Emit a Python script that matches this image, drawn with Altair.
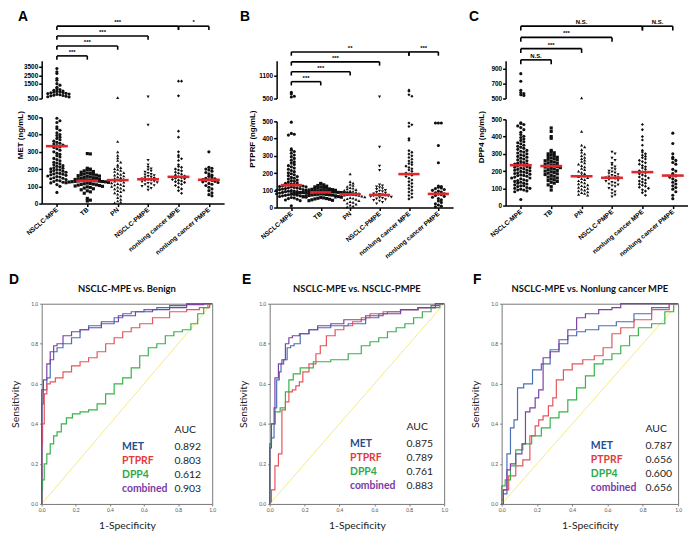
import json
import altair as alt
import pandas as pd

GROUPS = ["NSCLC-MPE", "TB", "PN", "NSCLC-PMPE", "nonlung cancer MPE", "nonlung cancer PMPE"]

# ---------------- MET (ng/mL) ----------------
MET_NSCLC_MPE = [3300, 2900, 2700, 2100, 1900, 1500, 1400, 1250, 1150, 1100, 1050, 1000, 980, 950,
                 920, 900, 880, 850, 830, 800, 780, 750, 720, 700, 680, 650, 620, 600,
                 495, 480, 470, 445, 435, 425, 410, 400, 395, 385, 378, 370, 362, 355, 350, 345,
                 340, 336, 330, 325, 318, 310, 300, 292, 285, 278, 270, 262, 255, 248, 240, 235,
                 230, 225, 220, 216, 212, 208, 205, 202, 198, 195, 192, 188, 185, 182, 178, 175,
                 172, 170, 167, 164, 160, 157, 154, 150, 147, 144, 140, 136, 132, 128, 124, 120,
                 110, 100, 65]
MET_TB = [290, 288, 205, 200, 198, 195, 190, 186, 182, 178, 175, 172, 170, 168, 165, 162, 160, 158,
          155, 152, 150, 148, 146, 144, 142, 140, 138, 136, 135, 134, 133, 132, 131, 130, 129, 128,
          127, 126, 125, 123, 121, 119, 117, 115, 113, 111, 109, 107, 105, 102, 100, 97, 94, 90,
          86, 80, 74, 68, 60, 30, 20, 15]
MET_PN = [560, 360, 300, 280, 265, 250, 240, 225, 215, 208, 202, 198, 192, 186, 180, 175, 170, 165,
          160, 155, 150, 146, 142, 138, 135, 130, 125, 120, 116, 112, 108, 104, 100, 96, 90, 85,
          80, 75, 70, 62, 55, 45, 35, 25, 15, 8, 5]
MET_NSCLC_PMPE = [610, 455, 250, 225, 210, 202, 195, 188, 182, 176, 170, 166, 162, 158, 154, 150,
                  147, 144, 141, 138, 135, 132, 129, 126, 122, 118, 114, 110, 105, 100, 95, 88, 78]
MET_NONLUNG_MPE = [1800, 1800, 680, 420, 385, 300, 280, 270, 260, 250, 225, 215, 210, 200, 195, 190,
                   182, 176, 170, 165, 160, 155, 150, 147, 144, 140, 135, 131, 127, 123, 118, 112,
                   105, 95, 85, 75, 60]
MET_NONLUNG_PMPE = [300, 210, 205, 200, 195, 188, 180, 172, 165, 158, 152, 147, 143, 140, 138, 135,
                    132, 129, 126, 122, 117, 112, 105, 95, 85, 75, 62, 52, 45]
MET_MEDIANS = [333, 132, 136, 141, 155, 138]
MET_SIG = ["***", "***", "***", "***", "*"]
MET_UPPER_TICKS = [500, 1500, 2500, 3500]

# ---------------- PTPRF (ng/mL) ----------------
PTPRF_NSCLC_MPE = [660, 620, 560, 540,
                   495, 430, 425, 420, 340, 332, 325, 315, 305, 295, 285, 275, 265, 258, 250, 243,
                   236, 229, 222, 215, 208, 202, 196, 190, 185, 180, 175, 170, 165, 160, 156, 152,
                   148, 144, 140, 137, 135, 134, 131, 130, 128, 126, 125, 122, 120, 119, 116, 115,
                   113, 110, 110, 107, 105, 104, 101, 100, 98, 96, 95, 92, 92, 89, 88, 86, 84, 83,
                   80, 80, 77, 76, 74, 72, 71, 68, 68, 65, 64, 60, 58, 56, 52, 48, 44, 40, 10]
PTPRF_TB = [140, 136, 132, 128, 124, 120, 118, 116, 114, 112, 110, 108, 106, 104, 102, 100, 99, 98,
            97, 96, 95, 94, 93, 92, 91, 90, 89, 88, 88, 87, 86, 85, 84, 83, 82, 81, 80, 79, 78, 77,
            76, 75, 74, 73, 72, 70, 68, 66, 64, 62, 60, 58, 56, 54, 52, 50, 48, 45, 42, 40]
PTPRF_PN = [195, 150, 142, 135, 128, 122, 116, 112, 108, 104, 100, 97, 94, 91, 88, 85, 82, 80, 78,
            76, 75, 74, 72, 70, 68, 66, 64, 62, 60, 57, 54, 51, 48, 44, 40, 35, 30, 25, 20, 14, 8, 4]
PTPRF_NSCLC_PMPE = [545, 350, 240, 215, 132, 126, 120, 115, 110, 105, 100, 96, 92, 88, 84, 80, 77,
                    74, 72, 70, 68, 66, 63, 60, 57, 54, 50, 46, 42, 38, 30, 22]
PTPRF_NONLUNG_MPE = [720, 690, 600, 560, 490, 480, 470, 400, 390, 330, 320, 310, 300, 290, 280, 270,
                     262, 255, 248, 240, 232, 225, 218, 210, 200, 194, 188, 180, 170, 160, 150, 140,
                     130, 120, 110, 100, 90, 80, 70, 60, 50]
PTPRF_NONLUNG_PMPE = [490, 490, 490, 360, 260, 125, 122, 118, 114, 110, 105, 100, 95, 90, 85, 80,
                      78, 75, 70, 65, 60, 52, 45, 38, 30, 22, 15, 8, 4]
PTPRF_MEDIANS = [130, 88, 77, 73, 194, 79]
PTPRF_SIG = ["***", "***", "***", "**", "***"]
PTPRF_UPPER_TICKS = [500, 1100]

# ---------------- DPP4 (ng/mL) ----------------
DPP4_NSCLC_MPE = [830, 730, 610, 580, 565, 550, 540,
                  480, 476, 470, 462, 452, 440, 425, 412, 402, 395, 386, 378, 370, 364, 358, 350,
                  344, 338, 332, 326, 320, 315, 310, 305, 300, 295, 290, 285, 280, 275, 270, 265,
                  260, 255, 250, 246, 242, 240, 238, 234, 230, 226, 222, 220, 218, 214, 210, 206,
                  205, 202, 198, 194, 190, 190, 186, 182, 178, 175, 174, 170, 165, 160, 160, 155,
                  150, 145, 145, 140, 135, 130, 130, 125, 120, 115, 115, 110, 105, 100, 100, 95,
                  90, 90, 85, 80, 35]
DPP4_TB = [450, 430, 400, 390, 320, 312, 306, 300, 295, 290, 285, 280, 276, 272, 268, 264, 260, 256,
           252, 248, 244, 240, 236, 232, 229, 226, 223, 220, 216, 212, 208, 204, 200, 196, 192, 188,
           184, 180, 175, 170, 165, 160, 155, 150, 145, 140, 135, 130, 120, 110, 90]
DPP4_PN = [510, 430, 350, 340, 325, 310, 300, 290, 280, 272, 264, 256, 248, 240, 232, 224, 216, 208,
           200, 192, 185, 178, 172, 168, 162, 156, 150, 144, 138, 132, 126, 120, 115, 110, 105, 100,
           95, 90, 85, 80, 75, 70, 65, 60]
DPP4_NSCLC_PMPE = [310, 300, 275, 262, 245, 235, 225, 215, 208, 200, 195, 190, 185, 180, 175, 170,
                   166, 162, 160, 158, 155, 150, 145, 140, 135, 130, 125, 120, 115, 110, 100, 90, 80,
                   70, 60, 50]
DPP4_NONLUNG_MPE = [470, 440, 400, 380, 350, 320, 310, 300, 292, 285, 278, 270, 262, 255, 248, 240,
                    232, 225, 218, 210, 202, 196, 190, 184, 178, 172, 166, 160, 154, 148, 142, 136,
                    130, 124, 118, 112, 106, 100, 92, 84, 75, 60]
DPP4_NONLUNG_PMPE = [420, 360, 300, 280, 272, 262, 250, 240, 210, 200, 185, 178, 172, 165, 155, 145,
                     135, 125, 115, 105, 95, 80, 60, 40]
DPP4_MEDIANS = [234, 229, 170, 161, 194, 174]
DPP4_SIG = ["N.S.", "***", "***", "N.S.", "N.S."]
DPP4_UPPER_TICKS = [500, 700, 900]

LOWER_TICKS = [0, 100, 200, 300, 400, 500]
BRACKET_FROM = [0, 0, 0, 0, 4]
BRACKET_TO = [1, 2, 3, 4, 5]
BRACKET_LEVEL = [0, 1, 2, 3, 3]

# ---------------- ROC curves ----------------
SERIES = ["MET", "PTPRF", "DPP4", "combined"]

D_MET_X = [0, 0, 0.02, 0.04, 0.06, 0.08, 0.1, 0.15, 0.2, 0.25, 0.3, 0.4, 0.45, 0.5, 0.55, 0.65, 0.7, 0.8, 0.9, 1.0]
D_MET_Y = [0, 0.5, 0.57, 0.63, 0.72, 0.76, 0.78, 0.80, 0.83, 0.87, 0.89, 0.90, 0.93, 0.95, 0.96, 0.97, 0.98, 0.99, 1.0, 1.0]
D_PTPRF_X = [0, 0, 0.01, 0.02, 0.04, 0.06, 0.1, 0.15, 0.2, 0.25, 0.3, 0.35, 0.4, 0.45, 0.5, 0.55, 0.6, 0.7, 0.8, 0.9, 0.95, 1.0]
D_PTPRF_Y = [0, 0.3, 0.4, 0.55, 0.6, 0.61, 0.63, 0.66, 0.69, 0.71, 0.73, 0.76, 0.80, 0.83, 0.86, 0.88, 0.90, 0.93, 0.96, 0.97, 0.98, 1.0]
D_DPP4_X = [0, 0, 0.01, 0.02, 0.04, 0.06, 0.08, 0.1, 0.13, 0.16, 0.2, 0.25, 0.3, 0.35, 0.4, 0.45, 0.5, 0.55, 0.6, 0.65, 0.7, 0.75, 0.8, 0.85, 0.9, 0.93, 0.97, 1.0]
D_DPP4_Y = [0, 0.07, 0.12, 0.2, 0.25, 0.3, 0.34, 0.36, 0.4, 0.43, 0.45, 0.46, 0.47, 0.5, 0.55, 0.6, 0.63, 0.68, 0.74, 0.78, 0.80, 0.84, 0.86, 0.87, 0.9, 0.95, 0.98, 1.0]
D_COMB_X = [0, 0, 0.02, 0.04, 0.06, 0.08, 0.1, 0.15, 0.2, 0.25, 0.3, 0.4, 0.5, 0.6, 0.7, 0.8, 0.9, 1.0]
D_COMB_Y = [0, 0.57, 0.62, 0.70, 0.76, 0.79, 0.80, 0.84, 0.86, 0.87, 0.88, 0.91, 0.94, 0.96, 0.97, 0.98, 0.995, 1.0]
D_AUC = ["0.892", "0.803", "0.612", "0.903"]

E_MET_X = [0, 0, 0.02, 0.03, 0.05, 0.06, 0.07, 0.09, 0.11, 0.13, 0.15, 0.2, 0.25, 0.3, 0.4, 0.5, 0.6, 0.65, 0.7, 0.8, 0.9, 0.95, 1.0]
E_MET_Y = [0, 0.3, 0.33, 0.48, 0.62, 0.66, 0.70, 0.72, 0.78, 0.79, 0.80, 0.85, 0.87, 0.88, 0.89, 0.90, 0.93, 0.95, 0.96, 0.97, 0.98, 0.99, 1.0]
E_PTPRF_X = [0, 0.02, 0.04, 0.06, 0.08, 0.1, 0.12, 0.14, 0.16, 0.18, 0.2, 0.25, 0.28, 0.3, 0.35, 0.4, 0.45, 0.5, 0.55, 0.6, 0.7, 0.8, 0.9, 1.0]
E_PTPRF_Y = [0.01, 0.07, 0.19, 0.25, 0.47, 0.51, 0.56, 0.57, 0.59, 0.61, 0.66, 0.70, 0.75, 0.79, 0.84, 0.87, 0.89, 0.91, 0.93, 0.95, 0.96, 0.97, 0.98, 1.0]
E_DPP4_X = [0, 0, 0.02, 0.04, 0.08, 0.1, 0.12, 0.15, 0.2, 0.3, 0.4, 0.5, 0.55, 0.6, 0.65, 0.7, 0.75, 0.8, 0.85, 0.9, 0.95, 1.0]
E_DPP4_Y = [0, 0.29, 0.4, 0.46, 0.48, 0.56, 0.62, 0.65, 0.68, 0.71, 0.72, 0.75, 0.79, 0.81, 0.83, 0.86, 0.88, 0.90, 0.93, 0.96, 0.98, 1.0]
E_COMB_X = [0, 0, 0.02, 0.04, 0.06, 0.08, 0.1, 0.12, 0.14, 0.2, 0.25, 0.3, 0.4, 0.45, 0.5, 0.6, 0.7, 0.8, 0.9, 1.0]
E_COMB_Y = [0, 0.28, 0.4, 0.63, 0.70, 0.72, 0.80, 0.83, 0.84, 0.85, 0.87, 0.89, 0.90, 0.92, 0.92, 0.94, 0.95, 0.97, 0.98, 1.0]
E_AUC = ["0.875", "0.789", "0.761", "0.883"]

F_MET_X = [0, 0.02, 0.04, 0.06, 0.08, 0.1, 0.15, 0.2, 0.25, 0.3, 0.35, 0.4, 0.45, 0.5, 0.6, 0.7, 0.8, 0.9, 1.0]
F_MET_Y = [0.02, 0.05, 0.25, 0.38, 0.42, 0.58, 0.60, 0.67, 0.70, 0.77, 0.80, 0.84, 0.86, 0.87, 0.89, 0.91, 0.95, 0.98, 1.0]
F_PTPRF_X = [0, 0.02, 0.06, 0.1, 0.14, 0.18, 0.2, 0.22, 0.25, 0.28, 0.3, 0.32, 0.38, 0.42, 0.5, 0.55, 0.6, 0.65, 0.7, 0.8, 0.9, 1.0]
F_PTPRF_Y = [0.02, 0.07, 0.14, 0.19, 0.22, 0.34, 0.39, 0.42, 0.44, 0.49, 0.53, 0.62, 0.67, 0.70, 0.72, 0.74, 0.78, 0.85, 0.88, 0.92, 0.97, 1.0]
F_DPP4_X = [0, 0, 0.04, 0.06, 0.1, 0.14, 0.2, 0.25, 0.3, 0.35, 0.4, 0.45, 0.5, 0.55, 0.6, 0.65, 0.7, 0.75, 0.8, 0.9, 0.95, 1.0]
F_DPP4_Y = [0, 0.09, 0.12, 0.19, 0.27, 0.30, 0.34, 0.38, 0.43, 0.46, 0.52, 0.58, 0.64, 0.70, 0.72, 0.75, 0.79, 0.84, 0.88, 0.90, 0.96, 1.0]
F_COMB_X = [0, 0.02, 0.04, 0.06, 0.1, 0.13, 0.14, 0.18, 0.2, 0.22, 0.25, 0.3, 0.35, 0.4, 0.45, 0.5, 0.6, 0.65, 0.7, 1.0]
F_COMB_Y = [0, 0.07, 0.17, 0.20, 0.25, 0.30, 0.46, 0.48, 0.53, 0.57, 0.73, 0.76, 0.82, 0.87, 0.93, 0.95, 0.97, 0.98, 1.0, 1.0]
F_AUC = ["0.787", "0.656", "0.600", "0.656"]

DIAG_X = [0, 1]
DIAG_Y = [0, 1]

# ---------------- styling ----------------
FT = "Liberation Sans"
FR = "Lato"
SHAPES = ["circle", "square", "triangle-up", "triangle-down", "diamond", "circle"]
SIZES = [10, 10, 13, 13, 13, 28]
LINE_COLORS = ["#4A70B6", "#E8545A", "#36B34A", "#7D42A6"]
TEXT_COLORS = ["#1F4E8F", "#E23A3A", "#2EAA48", "#7A3AA8"]
LABEL_EXPR = json.dumps(GROUPS) + "[datum.value]"
OFF = 0.1


def long_df(series):
    rows = []
    for g, vals in enumerate(series):
        for v in vals:
            rows.append({"g": g, "v": v})
    return pd.DataFrame(rows)


def points(df, filt, step, xs, xaxis, ys, yaxis):
    return (alt.Chart(df)
            .transform_filter(filt)
            .transform_calculate(b=f"floor(datum.v / {step})")
            .transform_window(rn="row_number()", groupby=["g", "b"])
            .transform_calculate(xp=f"datum.g + {OFF} * (datum.rn % 2 == 0 ? 1 : -1) * floor(datum.rn / 2)")
            .mark_point(filled=True, opacity=1, color="#111111", strokeWidth=0)
            .encode(x=alt.X("xp:Q", scale=xs, axis=xaxis),
                    y=alt.Y("v:Q", scale=ys, axis=yaxis),
                    shape=alt.Shape("g:O", scale=alt.Scale(domain=list(range(6)), range=SHAPES), legend=None),
                    size=alt.Size("g:O", scale=alt.Scale(domain=list(range(6)), range=SIZES), legend=None)))


def dot_panel(letter, ylabel, series, medians, sig, up_dom, up_rng, up_ticks, up_step, br_rng, width,
              letter_x, title_x):
    df = long_df(series)
    xs = alt.Scale(domain=[-0.5, 5.5], nice=False, zero=False)
    yax_common = dict(labelFontSize=6.5, labelFont=FT, labelFontWeight="bold", labelColor="black",
                      tickSize=3, tickWidth=1.5, tickColor="black", domainWidth=1.5, domainColor="black",
                      grid=False, labelFlush=False, labelOverlap=False, labelPadding=1, title=None)
    # upper (broken) segment
    ys_up = alt.Scale(domain=up_dom, range=up_rng, nice=False, zero=False)
    yax_up = alt.Axis(values=up_ticks, format="d", **yax_common)
    up_pts = points(df, "datum.v > 500", up_step, xs, None, ys_up, yax_up)
    bdf = pd.DataFrame({"x1": BRACKET_FROM, "x2": BRACKET_TO, "level": BRACKET_LEVEL, "label": sig})
    bsc = alt.Scale(domain=[0, 3], range=br_rng, nice=False, zero=False)
    br_h = alt.Chart(bdf).mark_rule(color="black", strokeWidth=1.6).encode(
        x=alt.X("x1:Q", scale=xs, axis=None), x2="x2:Q",
        y=alt.Y("level:Q", scale=bsc, axis=None))
    br_e = (alt.Chart(bdf).transform_fold(["x1", "x2"], as_=["side", "xe"])
            .transform_calculate(lo="datum.level - 0.38")
            .mark_rule(color="black", strokeWidth=1.6)
            .encode(x=alt.X("xe:Q", scale=xs, axis=None),
                    y=alt.Y("level:Q", scale=bsc, axis=None), y2="lo:Q"))
    br_t = (alt.Chart(bdf).transform_calculate(xm="(datum.x1 + datum.x2) / 2")
            .mark_text(dy=-4, fontSize=6, fontWeight="bold", font=FT, color="black")
            .encode(x=alt.X("xm:Q", scale=xs, axis=None),
                    y=alt.Y("level:Q", scale=bsc, axis=None), text="label:N"))
    lt = alt.Chart(pd.DataFrame({"t": [letter]})).mark_text(
        align="left", baseline="middle", fontSize=14, fontWeight="bold", font=FT, color="black").encode(
        text="t:N", x=alt.value(letter_x), y=alt.value(-44))
    upper = alt.layer(up_pts, br_h, br_e, br_t, lt).resolve_scale(y="independent").properties(
        width=width, height=38)
    # lower segment
    ys_lo = alt.Scale(domain=[0, 500], nice=False, zero=True)
    yax_lo = alt.Axis(values=LOWER_TICKS, **yax_common)
    xax = alt.Axis(values=list(range(6)), labelExpr=LABEL_EXPR, labelAngle=-40, labelAlign="right",
                   labelBaseline="middle", labelFontSize=6.6, labelFont=FT, labelFontWeight="bold",
                   labelColor="black", tickSize=3, tickWidth=1.5, tickColor="black", domainWidth=1.5,
                   domainColor="black", title=None, grid=False, labelFlush=False, labelOverlap=False,
                   labelPadding=2)
    lo_pts = points(df, "datum.v <= 500", 20, xs, xax, ys_lo, yax_lo)
    mdf = pd.DataFrame({"g": list(range(6)), "m": medians})
    med = (alt.Chart(mdf).transform_calculate(x1="datum.g - 0.36", x2="datum.g + 0.36")
           .mark_rule(color="#E3262B", strokeWidth=2.6)
           .encode(x=alt.X("x1:Q", scale=xs, axis=xax), x2="x2:Q",
                   y=alt.Y("m:Q", scale=ys_lo, axis=yax_lo)))
    ytitle = alt.Chart(pd.DataFrame({"t": [ylabel]})).mark_text(
        angle=270, align="center", baseline="bottom", fontSize=8, fontWeight="bold", font=FT,
        color="black").encode(text="t:N", x=alt.value(title_x), y=alt.value(18))
    lower = alt.layer(lo_pts, med, ytitle).properties(width=width, height=87)
    return alt.vconcat(upper, lower, spacing=8).resolve_scale(
        x="independent", y="independent", shape="independent", size="independent")


def roc_panel(letter, title, curves, aucs, width, letter_x, name_x, val_x, y0):
    rows = []
    for name, (cx, cy) in zip(SERIES, curves):
        for i, (a, b) in enumerate(zip(cx, cy)):
            rows.append({"s": name, "fpr": a, "tpr": b, "i": i})
    df = pd.DataFrame(rows)
    sx = alt.Scale(domain=[0, 1], nice=False)
    sy = alt.Scale(domain=[0, 1], nice=False)
    common = dict(values=[0, 0.2, 0.4, 0.6, 0.8, 1.0], format=".1f", labelFontSize=5, labelColor="#555",
                  labelFont=FR, tickSize=2, tickColor="#777", domain=False, grid=False, labelFlush=False,
                  titleFontSize=10.5, titleFont=FR, titleFontWeight="normal", titleColor="#222",
                  labelPadding=2)
    xax = alt.Axis(title="1-Specificity", titlePadding=8, **common)
    yax = alt.Axis(title="Sensitivity", titlePadding=10, **common)
    diag = alt.Chart(pd.DataFrame({"fpr": DIAG_X, "tpr": DIAG_Y})).mark_line(
        color="#F3EA86", strokeWidth=1).encode(
        x=alt.X("fpr:Q", scale=sx, axis=xax), y=alt.Y("tpr:Q", scale=sy, axis=yax))
    lines = alt.Chart(df).mark_line(interpolate="step", strokeWidth=1.2).encode(
        x=alt.X("fpr:Q", scale=sx, axis=xax), y=alt.Y("tpr:Q", scale=sy, axis=yax),
        color=alt.Color("s:N", scale=alt.Scale(domain=SERIES, range=LINE_COLORS), legend=None),
        order="i:Q")
    ldf = pd.DataFrame({"s": SERIES, "auc": aucs, "row": [0, 1, 2, 3]})
    names = (alt.Chart(ldf).transform_calculate(yp=f"{y0} + datum.row * 14")
             .mark_text(align="left", baseline="middle", fontSize=10.5, font=FR, fontWeight="bold")
             .encode(x=alt.value(name_x), y=alt.Y("yp:Q", scale=None, axis=None), text="s:N",
                     color=alt.Color("s:N", scale=alt.Scale(domain=SERIES, range=TEXT_COLORS), legend=None)))
    vals = (alt.Chart(ldf).transform_calculate(yp=f"{y0} + datum.row * 14")
            .mark_text(align="left", baseline="middle", fontSize=10.5, font=FR, color="#222")
            .encode(x=alt.value(val_x), y=alt.Y("yp:Q", scale=None, axis=None), text="auc:N"))
    head = alt.Chart(pd.DataFrame({"t": ["AUC"]})).mark_text(
        align="left", baseline="middle", fontSize=10.5, font=FR, color="#222").encode(
        text="t:N", x=alt.value(val_x), y=alt.value(y0 - 18))
    lt = alt.Chart(pd.DataFrame({"t": [letter]})).mark_text(
        align="left", baseline="middle", fontSize=14, fontWeight="bold", font=FT, color="black").encode(
        text="t:N", x=alt.value(letter_x), y=alt.value(-24))
    ttl = alt.Chart(pd.DataFrame({"t": [title]})).mark_text(
        align="center", baseline="middle", fontSize=9.5, fontWeight="bold", font=FR, color="#111").encode(
        text="t:N", x=alt.value(width / 2), y=alt.value(-15))
    return alt.layer(diag, lines, names, vals, head, lt, ttl).resolve_scale(color="independent").properties(
        width=width, height=202,
        view=alt.ViewBackground(stroke="#777", strokeWidth=1))


A = dot_panel("A", "MET (ng/mL)",
              [MET_NSCLC_MPE, MET_TB, MET_PN, MET_NSCLC_PMPE, MET_NONLUNG_MPE, MET_NONLUNG_PMPE],
              MET_MEDIANS, MET_SIG, [500, 1500, 3500, 4125], [38, 23, 6, 0], MET_UPPER_TICKS, 200,
              [-5, -35], 184, -24, -17)
B = dot_panel("B", "PTPRF (ng/mL)",
              [PTPRF_NSCLC_MPE, PTPRF_TB, PTPRF_PN, PTPRF_NSCLC_PMPE, PTPRF_NONLUNG_MPE, PTPRF_NONLUNG_PMPE],
              PTPRF_MEDIANS, PTPRF_SIG, [500, 1490], [38, 0], PTPRF_UPPER_TICKS, 80,
              [21, -9], 178, -37, -20)
C = dot_panel("C", "DPP4 (ng/mL)",
              [DPP4_NSCLC_MPE, DPP4_TB, DPP4_PN, DPP4_NSCLC_PMPE, DPP4_NONLUNG_MPE, DPP4_NONLUNG_PMPE],
              DPP4_MEDIANS, DPP4_SIG, [500, 1000], [38, 0], DPP4_UPPER_TICKS, 40,
              [-1, -35], 184, -37, -20)

D = roc_panel("D", "NSCLC-MPE vs. Benign",
              [(D_MET_X, D_MET_Y), (D_PTPRF_X, D_PTPRF_Y), (D_DPP4_X, D_DPP4_Y), (D_COMB_X, D_COMB_Y)],
              D_AUC, 172, -33, 81, 134, 145)
E = roc_panel("E", "NSCLC-MPE vs. NSCLC-PMPE",
              [(E_MET_X, E_MET_Y), (E_PTPRF_X, E_PTPRF_Y), (E_DPP4_X, E_DPP4_Y), (E_COMB_X, E_COMB_Y)],
              E_AUC, 176, -28, 81, 138, 142)
F = roc_panel("F", "NSCLC-MPE vs. Nonlung cancer MPE",
              [(F_MET_X, F_MET_Y), (F_PTPRF_X, F_PTPRF_Y), (F_DPP4_X, F_DPP4_Y), (F_COMB_X, F_COMB_Y)],
              F_AUC, 178, -29, 90, 145, 144)

row1 = alt.hconcat(A, B, C, spacing=16).resolve_scale(
    x="independent", y="independent", shape="independent", size="independent")
row2 = alt.hconcat(D, E, F, spacing=22).resolve_scale(x="independent", y="independent", color="independent")

chart = alt.concat(row1, row2, columns=1, spacing=12, align="none", padding=0, background="white").resolve_scale(
    x="independent", y="independent", color="independent", shape="independent", size="independent"
).configure_view(strokeWidth=0)

chart.save("out.html", embed_options={"renderer": "svg", "actions": False})
